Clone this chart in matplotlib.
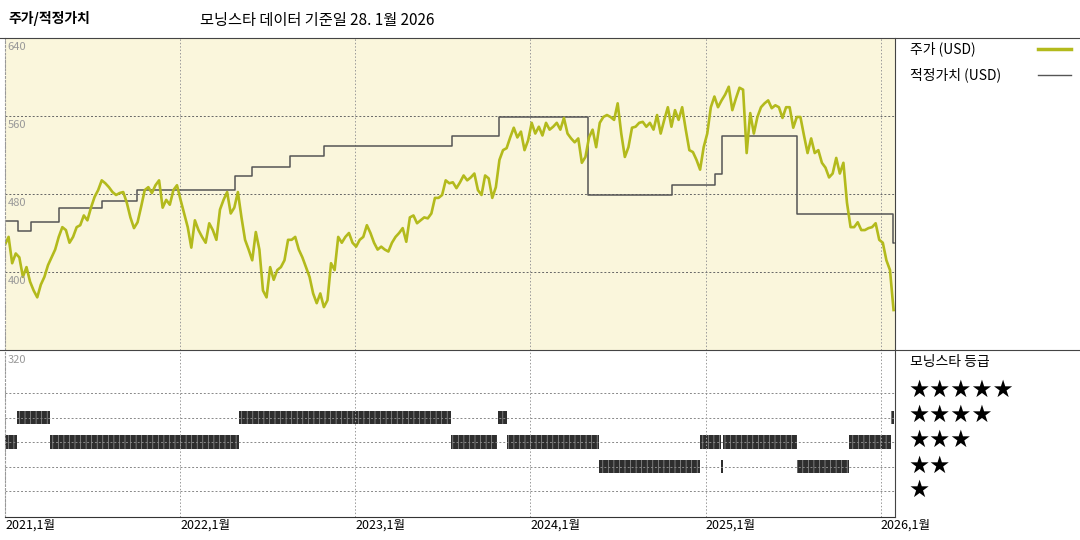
import numpy as np
import pandas as pd
import matplotlib
matplotlib.use("Agg")
import matplotlib.pyplot as plt
from matplotlib.lines import Line2D

plt.rcParams['font.family'] = ['Noto Sans CJK KR', 'DejaVu Sans']
plt.rcParams['hatch.linewidth'] = 0.5

# weekly closing price (USD), Jan 2021 -> 28 Jan 2026
price = [428, 436, 409, 419, 415, 395, 405, 390, 381, 374, 387, 395, 407, 415, 423, 436,
         446, 443, 430, 436, 446, 448, 458, 453, 466, 477, 484, 494, 491, 487, 482, 479,
         481, 482, 471, 456, 445, 451, 467, 484, 487, 481, 489, 494, 466, 474, 469, 484,
         489, 474, 460, 446, 425, 453, 443, 436, 430, 450, 443, 433, 464, 474, 482, 460,
         466, 482, 456, 433, 423, 412, 441, 423, 381, 374, 405, 392, 402, 405, 412, 433,
         433, 436, 423, 415, 405, 395, 378, 368, 378, 364, 371, 409, 402, 436, 430, 436,
         440, 430, 426, 433, 436, 448, 440, 430, 423, 426, 423, 421, 430, 436, 440, 445,
         431, 456, 458, 450, 453, 456, 455, 460, 476, 476, 479, 494, 491, 492, 486, 492,
         499, 494, 497, 501, 484, 479, 499, 496, 476, 487, 515, 525, 527, 538, 548, 538,
         544, 525, 535, 553, 542, 549, 540, 553, 546, 549, 553, 546, 558, 542, 537, 533,
         537, 512, 518, 538, 546, 528, 553, 559, 561, 559, 556, 573, 542, 518, 528, 548,
         549, 553, 554, 549, 553, 546, 561, 542, 556, 569, 549, 566, 556, 569, 546, 525,
         523, 515, 505, 528, 542, 569, 580, 569, 576, 582, 590, 566, 578, 589, 587, 522,
         563, 542, 559, 569, 573, 576, 568, 571, 569, 558, 569, 569, 548, 559, 559, 540,
         522, 537, 522, 525, 512, 507, 497, 501, 517, 501, 512, 471, 446, 446, 451, 443,
         443, 445, 446, 450, 433, 430, 412, 402, 361]
price_dates = pd.date_range("2021-01-01", "2026-01-28", periods=len(price))

# fair value steps (value holds from date until next date)
fv_dates = ["2021-01-01", "2021-01-28", "2021-02-24", "2021-04-23", "2021-07-22", "2021-10-03",
            "2022-04-25", "2022-06-01", "2022-08-18", "2022-10-28", "2023-07-22", "2023-10-28",
            "2024-05-01", "2024-10-23", "2025-01-21", "2025-02-05", "2025-07-11", "2026-01-26",
            "2026-01-28"]
fv_values = [452, 442, 451, 466, 473, 484, 498, 508, 519, 529, 539, 559, 479, 489, 500, 539,
             459, 430, 430]

# Morningstar rating periods: (start, end, stars)
rating_start = ["2021-01-01", "2021-01-27", "2021-04-05", "2022-05-04", "2023-07-20",
                "2023-10-27", "2023-11-14", "2024-05-23", "2024-12-20", "2025-02-03",
                "2025-02-06", "2025-07-11", "2025-10-27", "2026-01-22"]
rating_end = ["2021-01-27", "2021-04-05", "2022-05-04", "2023-07-20", "2023-10-24",
              "2023-11-14", "2024-05-23", "2024-12-20", "2025-02-03", "2025-02-06",
              "2025-07-11", "2025-10-27", "2026-01-22", "2026-01-28"]
rating_stars = [3, 4, 3, 4, 3, 4, 3, 2, 3, 2, 3, 2, 3, 4]

price_ticks = [640, 560, 480, 400]
year_ticks = ["2021-01-01", "2022-01-01", "2023-01-01", "2024-01-01", "2025-01-01", "2026-01-01"]
year_labels = ["2021,1월", "2022,1월", "2023,1월", "2024,1월", "2025,1월", "2026,1월"]

price_color = "#b3ba1c"
fv_color = "#555555"
bg = "#faf6dc"

fig = plt.figure(figsize=(10.8, 5.4), dpi=100)
L, R = 5 / 1080, 895 / 1080
ax = fig.add_axes([L, 1 - 350 / 540, R - L, (350 - 38) / 540])
axr = fig.add_axes([L, 1 - 517 / 540, R - L, (517 - 350) / 540])

xmin, xmax = pd.Timestamp("2021-01-01"), pd.Timestamp("2026-01-31")
yticks_dt = pd.to_datetime(year_ticks)

# price panel
ax.set_facecolor(bg)
ax.set_xlim(xmin, xmax)
ax.set_ylim(320, 640)
for v in price_ticks[1:]:
    ax.axhline(v, color="#666666", lw=0.7, ls=(0, (2, 2)))
for d in yticks_dt:
    ax.axvline(d, color="#999999", lw=0.7, ls=(0, (1.5, 2)))
for v in price_ticks:
    ax.text(0.003, v - 4, str(v), transform=ax.get_yaxis_transform(), fontsize=8,
            color="#999999", va="top", ha="left")
ax.step(pd.to_datetime(fv_dates), fv_values, where="post", color=fv_color, lw=1.1)
ax.plot(price_dates, price, color=price_color, lw=1.9)
ax.set_xticks([]); ax.set_yticks([])
for s in ax.spines.values():
    s.set_visible(False)
ax.spines["left"].set_visible(True)
ax.spines["left"].set_linestyle((0, (1.5, 2)))
ax.spines["left"].set_color("#999999")

# rating panel
axr.set_xlim(xmin, xmax)
axr.set_ylim(-0.06, 6.755)
for s in [1, 2, 3, 4, 5]:
    axr.axhline(s, color="#888888", lw=0.7, ls=(0, (2, 2)))
for d in yticks_dt:
    axr.axvline(d, color="#999999", lw=0.7, ls=(0, (1.5, 2)))
axr.text(0.003, 6.55, "320", transform=axr.get_yaxis_transform(), fontsize=8,
         color="#999999", va="top", ha="left")
for s0, s1, st in zip(rating_start, rating_end, rating_stars):
    a, b = pd.Timestamp(s0), pd.Timestamp(s1)
    axr.bar(a, 0.55, bottom=st - 0.275, width=(b - a), align="edge",
            color="#2e2e2e", edgecolor="#9a9a9a", hatch="|||", lw=0)
axr.set_yticks([])
axr.set_xticks(yticks_dt)
axr.set_xticklabels(year_labels, fontsize=9, ha="left")
axr.tick_params(axis="x", length=0, pad=1)
for s in axr.spines.values():
    s.set_visible(False)
axr.spines["bottom"].set_visible(True)
axr.spines["bottom"].set_color("#333333")
axr.spines["left"].set_visible(True)
axr.spines["left"].set_linestyle((0, (1.5, 2)))
axr.spines["left"].set_color("#999999")

# frame lines
fig.add_artist(Line2D([0, 1], [1 - 38 / 540] * 2, color="#444444", lw=0.8))
fig.add_artist(Line2D([0, 1], [1 - 350 / 540] * 2, color="#444444", lw=0.8))
fig.add_artist(Line2D([R, R], [1 - 517 / 540, 1 - 38 / 540], color="#444444", lw=0.8))

# titles
fig.text(8 / 1080, 1 - 18 / 540, "주가/적정가치", fontsize=10, fontweight="bold", va="center")
fig.text(200 / 1080, 1 - 20 / 540, "모닝스타 데이터 기준일 28. 1월 2026", fontsize=11, va="center")

# legend
fig.text(910 / 1080, 1 - 49 / 540, "주가 (USD)", fontsize=10, va="center")
fig.add_artist(Line2D([1038 / 1080, 1071 / 1080], [1 - 49 / 540] * 2, color=price_color, lw=2.5))
fig.text(910 / 1080, 1 - 75 / 540, "적정가치 (USD)", fontsize=10, va="center")
fig.add_artist(Line2D([1038 / 1080, 1071 / 1080], [1 - 75 / 540] * 2, color=fv_color, lw=1))
fig.text(910 / 1080, 1 - 362 / 540, "모닝스타 등급", fontsize=10, va="center")
for s, ypx in zip([5, 4, 3, 2, 1], [390, 415, 440, 466, 490]):
    fig.text(908 / 1080, 1 - ypx / 540, "★" * s, fontsize=17, va="center",
             family="DejaVu Sans")

fig.savefig("out.png", dpi=100)
